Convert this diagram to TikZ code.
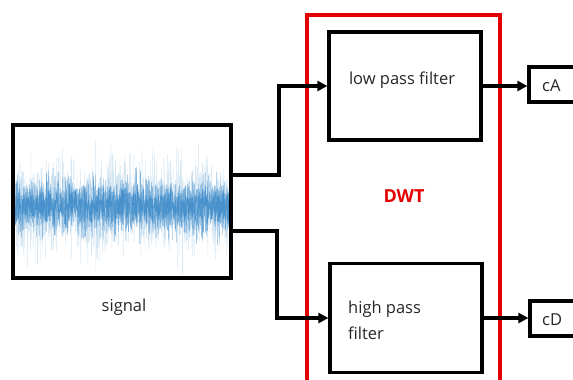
\documentclass[tikz,border=0pt]{standalone}
\usepackage{fontspec}
\setmainfont{Open Sans}
\usetikzlibrary{arrows.meta}
\definecolor{dwtred}{RGB}{228,0,0}
\definecolor{noiseblue}{RGB}{20,115,190}
\tikzset{
  box/.style={draw=black, line width=3.2pt, inner sep=0pt},
  conn/.style={draw=black, line width=3.2pt, -{Triangle[length=10pt,width=10pt]}},
  lbl/.style={font=\fontsize{16.5}{26}\selectfont, inner sep=0pt, text=black!85},
}
\begin{document}
\begin{tikzpicture}[x=1pt,y=-1pt]
\useasboundingbox (0,0) rectangle (573,380);
\clip (0,0) rectangle (573,380);
% noise waveform
\pgfmathsetseed{7}
\begin{scope}
  \clip (15,127) rectangle (229,276);
  \draw[noiseblue!50, line width=0.5pt, opacity=0.35] plot[domain=15:229, samples=1000] (\x, {206 + 25*(rand+rand+rand)});
  \draw[noiseblue, line width=0.5pt, opacity=0.45] plot[domain=15:229, samples=1500] (\x, {206 + 15*(rand+rand+rand)});
  \draw[noiseblue, line width=0.5pt, opacity=0.5] plot[domain=15:229, samples=1200] (\x, {206 + 10*(rand+rand+rand)});
\end{scope}
\node[box, minimum width=218pt, minimum height=153pt] (sig) at (122,201.5) {};
\node[lbl] (sigtxt) at (124,307) {signal};
% DWT box
\node[draw=dwtred, line width=3.8pt, minimum width=193pt, minimum height=400pt, inner sep=0pt] (dwt) at (403.5,215) {};
\node[font=\fontsize{18}{20}\selectfont\bfseries, text=dwtred, inner sep=0pt] (dwttxt) at (404,196) {DWT};
% filters
\node[box, minimum width=152pt, minimum height=108pt] (low) at (405,86) {};
\node[lbl] (lowtxt) at (402,80) {low pass filter};
\node[box, minimum width=152pt, minimum height=109pt] (high) at (406,318) {};
\node[lbl, align=left, anchor=west] (hightxt) at (348,320) {high pass\\filter};
% outputs
\node[box, minimum width=60pt, minimum height=35pt] (cA) at (559,84.5) {};
\node[lbl, anchor=west] (cAtxt) at (542,86) {cA};
\node[box, minimum width=60pt, minimum height=35pt] (cD) at (560,318.5) {};
\node[lbl, anchor=west] (cDtxt) at (542,320) {cD};
% connectors
\coordinate (s1) at (231,175);
\coordinate (s2) at (231,231);
\draw[conn] (sig.east |- s1) -- (279,175) |- (low.west);
\draw[conn] (sig.east |- s2) -- (277,231) |- (high.west);
\draw[conn] (low.east) -- (low.east -| cA.west);
\draw[conn] (high.east) -- (high.east -| cD.west);
\end{tikzpicture}
\end{document}
